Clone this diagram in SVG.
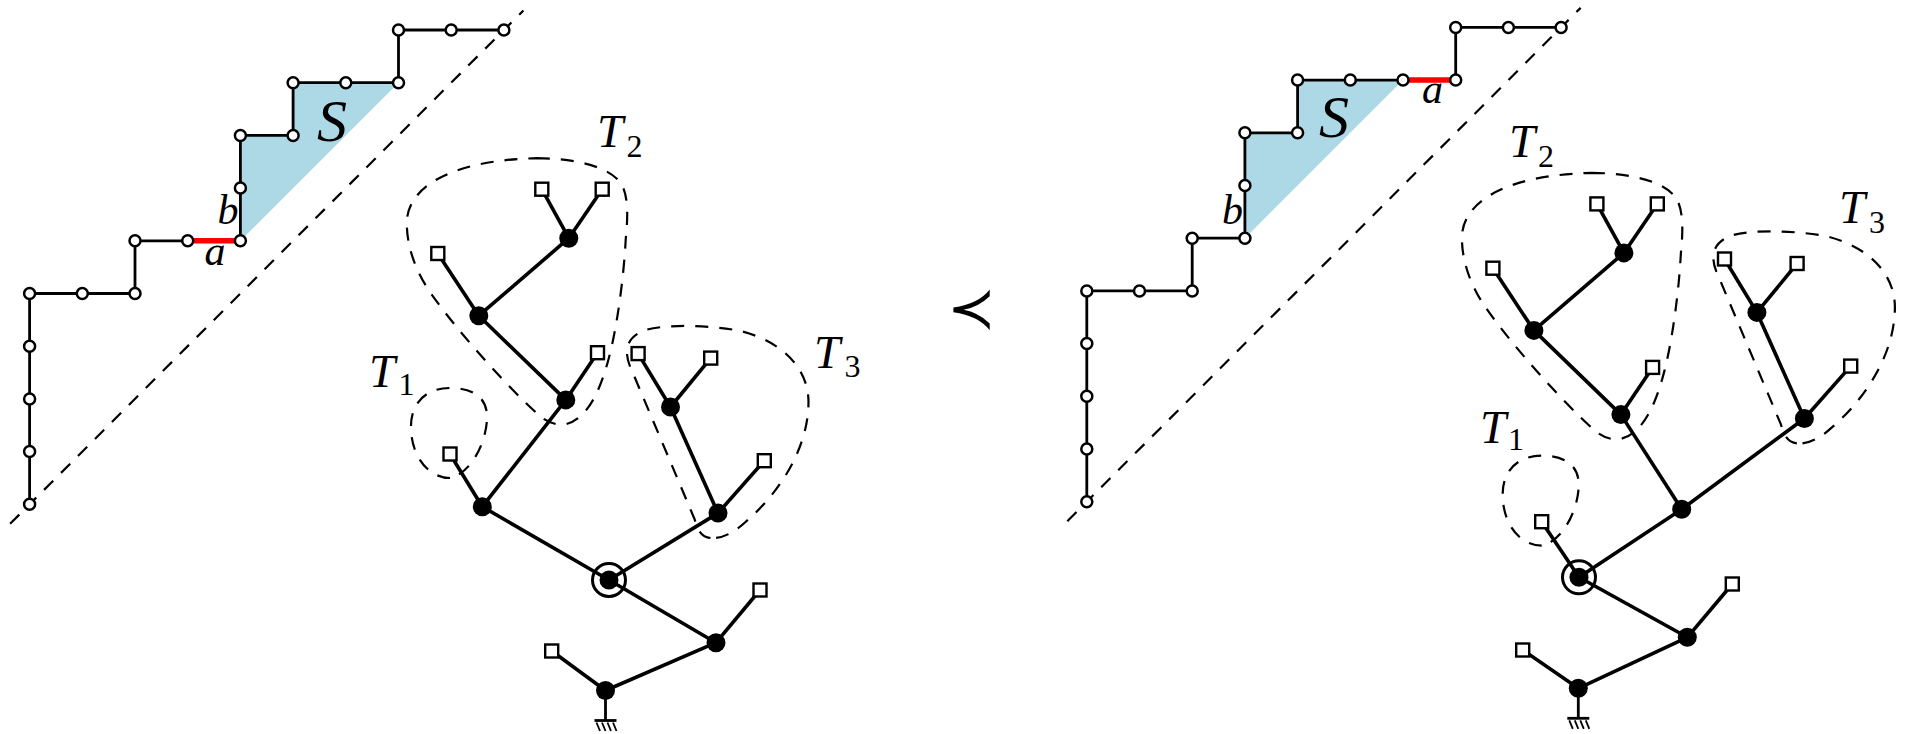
<svg xmlns="http://www.w3.org/2000/svg" width="1907" height="734" viewBox="0 0 1907 734">
<style>
.pe{fill:none;stroke:#000;stroke-width:2.8;stroke-linejoin:miter}
.red{stroke:#f00;stroke-width:5.5}
.pn{fill:#fff;stroke:#000;stroke-width:2.5}
.shade{fill:#add8e6;stroke:none}
.diag{stroke:#000;stroke-width:2.2;stroke-dasharray:13 11;fill:none}
.te{stroke:#000;stroke-width:3.6}
.tn{fill:#000}
.lf{fill:#fff;stroke:#000;stroke-width:2.4}
.loop{fill:none;stroke:#000;stroke-width:2.2;stroke-dasharray:13 11}
.ring{fill:none;stroke:#000;stroke-width:3}
.gnd{stroke:#000;stroke-width:2.8}
.hatch{stroke:#000;stroke-width:1.8}
.lbl{font-family:"Liberation Serif","DejaVu Serif",serif;font-style:italic;fill:#000}
.sub{font-family:"Liberation Serif","DejaVu Serif",serif;font-size:32px;fill:#000}
</style>
<defs>
<path id="loopT1" d="M 0,24 C -20,24 -38,5 -39,-25 C -40,-50 -25,-66 0,-66 C 25,-66 38,-55 37,-35 C 36,-10 20,20 0,24 Z"/>
<path id="loopT2" d="M -32,-80 C 5,-80 40,-72 52,-55 C 60,-43 59,-20 57,0 C 55,40 48,90 40,120 C 32,150 20,180 -3,186 C -15,188 -25,182 -32,175 C -60,150 -110,95 -138,55 C -152,35 -162,10 -162,-15 C -162,-50 -120,-78 -32,-80 Z"/>
<path id="loopT3" d="M 40,131 C 30,130 27,122 24,112 L -38,-35 C -48,-55 -45,-70 -25,-77 C -5,-83 40,-82 70,-76 C 110,-66 138,-40 138,-5 C 138,40 110,85 75,115 C 62,127 50,132 40,131 Z"/>
</defs>
<rect width="1907" height="734" fill="#fff"/>

<!-- ===== LEFT DYCK PATH ===== -->
<polygon id="S-left" class="shade" points="240.4,240.8 240.4,135.4 293.1,135.4 293.1,82.7 398.5,82.7"/>
<g id="connectors-left-path">
<line class="diag" x1="10.1" y1="523.8" x2="523.4" y2="10.5"/>
<polyline class="pe" points="29.6,504.3 29.6,293.5 135.0,293.5 135.0,240.8 240.4,240.8 240.4,135.4 293.1,135.4 293.1,82.7 398.5,82.7 398.5,30.0 503.9,30.0"/>
<line class="pe red" x1="187.7" y1="240.8" x2="240.4" y2="240.8"/>
</g>
<g id="lp0"><circle class="pn" cx="29.6" cy="504.3" r="5.5"/></g>
<g id="lp1"><circle class="pn" cx="29.6" cy="451.6" r="5.5"/></g>
<g id="lp2"><circle class="pn" cx="29.6" cy="398.9" r="5.5"/></g>
<g id="lp3"><circle class="pn" cx="29.6" cy="346.2" r="5.5"/></g>
<g id="lp4"><circle class="pn" cx="29.6" cy="293.5" r="5.5"/></g>
<g id="lp5"><circle class="pn" cx="82.3" cy="293.5" r="5.5"/></g>
<g id="lp6"><circle class="pn" cx="135.0" cy="293.5" r="5.5"/></g>
<g id="lp7"><circle class="pn" cx="135.0" cy="240.8" r="5.5"/></g>
<g id="lp8"><circle class="pn" cx="187.7" cy="240.8" r="5.5"/></g>
<g id="lp9"><circle class="pn" cx="240.4" cy="240.8" r="5.5"/></g>
<g id="lp10"><circle class="pn" cx="240.4" cy="188.1" r="5.5"/></g>
<g id="lp11"><circle class="pn" cx="240.4" cy="135.4" r="5.5"/></g>
<g id="lp12"><circle class="pn" cx="293.1" cy="135.4" r="5.5"/></g>
<g id="lp13"><circle class="pn" cx="293.1" cy="82.7" r="5.5"/></g>
<g id="lp14"><circle class="pn" cx="345.8" cy="82.7" r="5.5"/></g>
<g id="lp15"><circle class="pn" cx="398.5" cy="82.7" r="5.5"/></g>
<g id="lp16"><circle class="pn" cx="398.5" cy="30.0" r="5.5"/></g>
<g id="lp17"><circle class="pn" cx="451.2" cy="30.0" r="5.5"/></g>
<g id="lp18"><circle class="pn" cx="503.9" cy="30.0" r="5.5"/></g>
<text class="lbl" x="215" y="265" font-size="42" text-anchor="middle">a</text>
<text class="lbl" x="228" y="224" font-size="42" text-anchor="middle">b</text>
<text class="lbl" x="332" y="140.5" font-size="60" text-anchor="middle">S</text>

<!-- ===== LEFT TREE ===== -->
<g id="connectors-left-tree">
<line class="te" x1="605.5" y1="690.5" x2="551.7" y2="651"/>
<line class="te" x1="605.5" y1="690.5" x2="716" y2="642.7"/>
<line class="te" x1="716" y1="642.7" x2="760" y2="590"/>
<line class="te" x1="716" y1="642.7" x2="609" y2="580"/>
<line class="te" x1="609" y1="580" x2="482.3" y2="506.7"/>
<line class="te" x1="609" y1="580" x2="718" y2="513.1"/>
<line class="te" x1="482.3" y1="506.7" x2="450" y2="454"/>
<line class="te" x1="482.3" y1="506.7" x2="565.8" y2="399.9"/>
<line class="te" x1="565.8" y1="399.9" x2="597.5" y2="352.7"/>
<line class="te" x1="565.8" y1="399.9" x2="478.8" y2="315.7"/>
<line class="te" x1="478.8" y1="315.7" x2="437.8" y2="253.5"/>
<line class="te" x1="478.8" y1="315.7" x2="568.8" y2="238.2"/>
<line class="te" x1="568.8" y1="238.2" x2="541.8" y2="189.2"/>
<line class="te" x1="568.8" y1="238.2" x2="602.2" y2="189.2"/>
<line class="te" x1="718" y1="513.1" x2="764.3" y2="460.7"/>
<line class="te" x1="718" y1="513.1" x2="670.5" y2="407"/>
<line class="te" x1="670.5" y1="407" x2="638.1" y2="353.6"/>
<line class="te" x1="670.5" y1="407" x2="710.7" y2="358.1"/>
<line class="gnd" x1="605.5" y1="690.5" x2="605.5" y2="720.5"/>
<line class="gnd" x1="594.5" y1="720.5" x2="616.5" y2="720.5"/>
<line class="hatch" x1="596.5" y1="722.5" x2="600" y2="731"/>
<line class="hatch" x1="602" y1="722.5" x2="605.5" y2="731"/>
<line class="hatch" x1="607.5" y1="722.5" x2="611" y2="731"/>
<line class="hatch" x1="613" y1="722.5" x2="616.5" y2="731"/>
<use href="#loopT1" class="loop" transform="translate(450,454)"/>
<use href="#loopT2" class="loop" transform="translate(568.8,238.2)"/>
<use href="#loopT3" class="loop" transform="translate(670.5,407)"/>
</g>
<g id="lt-bottom"><circle class="tn" cx="605.5" cy="690.5" r="9.5"/></g>
<g id="lt-bl"><rect class="lf" x="545.2" y="644.5" width="13" height="13"/></g>
<g id="lt-r1"><circle class="tn" cx="716" cy="642.7" r="9.5"/></g>
<g id="lt-r1l"><rect class="lf" x="753.5" y="583.5" width="13" height="13"/></g>
<g id="lt-root"><circle class="ring" cx="609" cy="580" r="16.5"/><circle class="tn" cx="609" cy="580" r="9.5"/></g>
<g id="lt-n1"><circle class="tn" cx="482.3" cy="506.7" r="9.5"/></g>
<g id="lt-t1"><rect class="lf" x="443.5" y="447.5" width="13" height="13"/></g>
<g id="lt-t2bot"><circle class="tn" cx="565.8" cy="399.9" r="9.5"/></g>
<g id="lt-t2d"><rect class="lf" x="591" y="346.2" width="13" height="13"/></g>
<g id="lt-t2mid"><circle class="tn" cx="478.8" cy="315.7" r="9.5"/></g>
<g id="lt-t2c"><rect class="lf" x="431.3" y="247" width="13" height="13"/></g>
<g id="lt-t2top"><circle class="tn" cx="568.8" cy="238.2" r="9.5"/></g>
<g id="lt-t2a"><rect class="lf" x="535.3" y="182.7" width="13" height="13"/></g>
<g id="lt-t2b"><rect class="lf" x="595.7" y="182.7" width="13" height="13"/></g>
<g id="lt-t3bot"><circle class="tn" cx="718" cy="513.1" r="9.5"/></g>
<g id="lt-t3g"><rect class="lf" x="757.8" y="454.2" width="13" height="13"/></g>
<g id="lt-t3top"><circle class="tn" cx="670.5" cy="407" r="9.5"/></g>
<g id="lt-t3e"><rect class="lf" x="631.6" y="347.1" width="13" height="13"/></g>
<g id="lt-t3f"><rect class="lf" x="704.2" y="351.6" width="13" height="13"/></g>
<text class="lbl" font-size="47" x="369" y="387">T</text><text class="sub" x="398.5" y="395">1</text>
<text class="lbl" font-size="47" x="597" y="146.7">T</text><text class="sub" x="626.5" y="156.7">2</text>
<text class="lbl" font-size="47" x="814" y="368.3">T</text><text class="sub" x="844.5" y="376.7">3</text>

<!-- ===== PREC ===== -->
<text x="971.5" y="328" font-family="DejaVu Sans, sans-serif" font-size="58" text-anchor="middle">≺</text>

<!-- ===== RIGHT DYCK PATH ===== -->
<polygon id="S-right" class="shade" points="1244.9,238.2 1244.9,132.8 1297.6,132.8 1297.6,80.1 1403.0,80.1"/>
<g id="connectors-right-path">
<line class="diag" x1="1067.3" y1="521.2" x2="1580.6" y2="7.9"/>
<polyline class="pe" points="1086.8,501.7 1086.8,290.9 1192.2,290.9 1192.2,238.2 1244.9,238.2 1244.9,132.8 1297.6,132.8 1297.6,80.1 1455.7,80.1 1455.7,27.4 1561.1,27.4"/>
<line class="pe red" x1="1403.0" y1="80.1" x2="1455.7" y2="80.1"/>
</g>
<g id="rp0"><circle class="pn" cx="1086.8" cy="501.7" r="5.5"/></g>
<g id="rp1"><circle class="pn" cx="1086.8" cy="449.0" r="5.5"/></g>
<g id="rp2"><circle class="pn" cx="1086.8" cy="396.3" r="5.5"/></g>
<g id="rp3"><circle class="pn" cx="1086.8" cy="343.6" r="5.5"/></g>
<g id="rp4"><circle class="pn" cx="1086.8" cy="290.9" r="5.5"/></g>
<g id="rp5"><circle class="pn" cx="1139.5" cy="290.9" r="5.5"/></g>
<g id="rp6"><circle class="pn" cx="1192.2" cy="290.9" r="5.5"/></g>
<g id="rp7"><circle class="pn" cx="1192.2" cy="238.2" r="5.5"/></g>
<g id="rp8"><circle class="pn" cx="1244.9" cy="238.2" r="5.5"/></g>
<g id="rp9"><circle class="pn" cx="1244.9" cy="185.5" r="5.5"/></g>
<g id="rp10"><circle class="pn" cx="1244.9" cy="132.8" r="5.5"/></g>
<g id="rp11"><circle class="pn" cx="1297.6" cy="132.8" r="5.5"/></g>
<g id="rp12"><circle class="pn" cx="1297.6" cy="80.1" r="5.5"/></g>
<g id="rp13"><circle class="pn" cx="1350.3" cy="80.1" r="5.5"/></g>
<g id="rp14"><circle class="pn" cx="1403.0" cy="80.1" r="5.5"/></g>
<g id="rp15"><circle class="pn" cx="1455.7" cy="80.1" r="5.5"/></g>
<g id="rp16"><circle class="pn" cx="1455.7" cy="27.4" r="5.5"/></g>
<g id="rp17"><circle class="pn" cx="1508.4" cy="27.4" r="5.5"/></g>
<g id="rp18"><circle class="pn" cx="1561.1" cy="27.4" r="5.5"/></g>
<text class="lbl" x="1432.5" y="103.3" font-size="42" text-anchor="middle">a</text>
<text class="lbl" x="1232.5" y="224" font-size="42" text-anchor="middle">b</text>
<text class="lbl" x="1334" y="136.5" font-size="60" text-anchor="middle">S</text>

<!-- ===== RIGHT TREE ===== -->
<g id="connectors-right-tree">
<line class="te" x1="1578.3" y1="688.3" x2="1522.7" y2="650"/>
<line class="te" x1="1578.3" y1="688.3" x2="1687.3" y2="637.3"/>
<line class="te" x1="1687.3" y1="637.3" x2="1732.3" y2="584"/>
<line class="te" x1="1687.3" y1="637.3" x2="1579" y2="577.3"/>
<line class="te" x1="1579" y1="577.3" x2="1541.7" y2="521.7"/>
<line class="te" x1="1579" y1="577.3" x2="1681.7" y2="509.3"/>
<line class="te" x1="1681.7" y1="509.3" x2="1620.9" y2="414.6"/>
<line class="te" x1="1681.7" y1="509.3" x2="1804.4" y2="418.5"/>
<line class="te" x1="1620.9" y1="414.6" x2="1652.6" y2="367.4"/>
<line class="te" x1="1620.9" y1="414.6" x2="1533.9" y2="330.4"/>
<line class="te" x1="1533.9" y1="330.4" x2="1492.9" y2="268.2"/>
<line class="te" x1="1533.9" y1="330.4" x2="1623.9" y2="252.9"/>
<line class="te" x1="1623.9" y1="252.9" x2="1596.9" y2="203.9"/>
<line class="te" x1="1623.9" y1="252.9" x2="1657.3" y2="203.9"/>
<line class="te" x1="1804.4" y1="418.5" x2="1850.7" y2="366.1"/>
<line class="te" x1="1804.4" y1="418.5" x2="1756.9" y2="312.4"/>
<line class="te" x1="1756.9" y1="312.4" x2="1724.5" y2="259"/>
<line class="te" x1="1756.9" y1="312.4" x2="1797.1" y2="263.5"/>
<line class="gnd" x1="1578.3" y1="688.3" x2="1578.3" y2="718.3"/>
<line class="gnd" x1="1567.3" y1="718.3" x2="1589.3" y2="718.3"/>
<line class="hatch" x1="1569.3" y1="720.3" x2="1572.8" y2="728.8"/>
<line class="hatch" x1="1574.8" y1="720.3" x2="1578.3" y2="728.8"/>
<line class="hatch" x1="1580.3" y1="720.3" x2="1583.8" y2="728.8"/>
<line class="hatch" x1="1585.8" y1="720.3" x2="1589.3" y2="728.8"/>
<use href="#loopT1" class="loop" transform="translate(1541.7,521.7)"/>
<use href="#loopT2" class="loop" transform="translate(1623.9,252.9)"/>
<use href="#loopT3" class="loop" transform="translate(1756.9,312.4)"/>
</g>
<g id="rt-bottom"><circle class="tn" cx="1578.3" cy="688.3" r="9.5"/></g>
<g id="rt-bl"><rect class="lf" x="1516.2" y="643.5" width="13" height="13"/></g>
<g id="rt-r1"><circle class="tn" cx="1687.3" cy="637.3" r="9.5"/></g>
<g id="rt-r1l"><rect class="lf" x="1725.8" y="577.5" width="13" height="13"/></g>
<g id="rt-root"><circle class="ring" cx="1579" cy="577.3" r="16.5"/><circle class="tn" cx="1579" cy="577.3" r="9.5"/></g>
<g id="rt-t1"><rect class="lf" x="1535.2" y="515.2" width="13" height="13"/></g>
<g id="rt-mid"><circle class="tn" cx="1681.7" cy="509.3" r="9.5"/></g>
<g id="rt-t2bot"><circle class="tn" cx="1620.9" cy="414.6" r="9.5"/></g>
<g id="rt-t2d"><rect class="lf" x="1646.1" y="360.9" width="13" height="13"/></g>
<g id="rt-t2mid"><circle class="tn" cx="1533.9" cy="330.4" r="9.5"/></g>
<g id="rt-t2c"><rect class="lf" x="1486.4" y="261.7" width="13" height="13"/></g>
<g id="rt-t2top"><circle class="tn" cx="1623.9" cy="252.9" r="9.5"/></g>
<g id="rt-t2a"><rect class="lf" x="1590.4" y="197.4" width="13" height="13"/></g>
<g id="rt-t2b"><rect class="lf" x="1650.8" y="197.4" width="13" height="13"/></g>
<g id="rt-t3bot"><circle class="tn" cx="1804.4" cy="418.5" r="9.5"/></g>
<g id="rt-t3g"><rect class="lf" x="1844.2" y="359.6" width="13" height="13"/></g>
<g id="rt-t3top"><circle class="tn" cx="1756.9" cy="312.4" r="9.5"/></g>
<g id="rt-t3e"><rect class="lf" x="1718" y="252.5" width="13" height="13"/></g>
<g id="rt-t3f"><rect class="lf" x="1790.6" y="257" width="13" height="13"/></g>
<text class="lbl" font-size="47" x="1480" y="443">T</text><text class="sub" x="1508" y="450">1</text>
<text class="lbl" font-size="47" x="1509" y="156.7">T</text><text class="sub" x="1538" y="166.7">2</text>
<text class="lbl" font-size="47" x="1839" y="223.3">T</text><text class="sub" x="1869" y="233.3">3</text>
</svg>
